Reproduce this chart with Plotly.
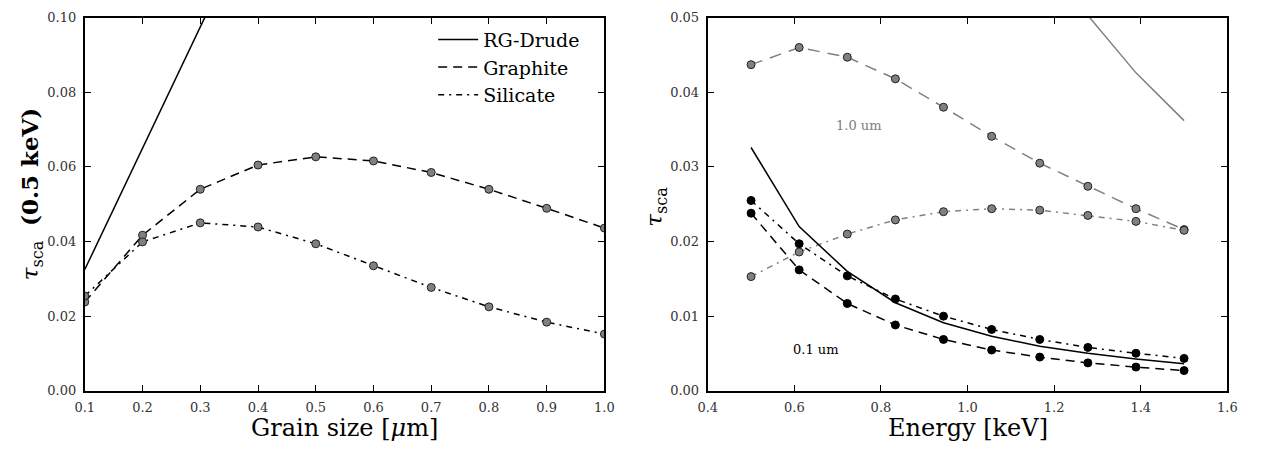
import plotly.graph_objects as go

# ---------------- data ----------------
grain_size = [0.1, 0.2, 0.3, 0.4, 0.5, 0.6, 0.7, 0.8, 0.9, 1.0]
rg_drude_a = [0.0325, 0.065, 0.0975, 0.130, 0.1625, 0.195, 0.2275, 0.260, 0.2925, 0.325]
graphite_a = [0.0238, 0.0417, 0.0540, 0.0605, 0.0627, 0.0616, 0.0585, 0.0540, 0.0489, 0.0436]
silicate_a = [0.0254, 0.0399, 0.0450, 0.0439, 0.0394, 0.0335, 0.0277, 0.0225, 0.0184, 0.0152]

energy = [0.5, 0.6111, 0.7222, 0.8333, 0.9444, 1.0556, 1.1667, 1.2778, 1.3889, 1.5]
rg_drude_01 = [0.0326, 0.0220, 0.0160, 0.0118, 0.00912, 0.00731, 0.00598, 0.00503, 0.00426, 0.00361]
graphite_01 = [0.0238, 0.0162, 0.0117, 0.00882, 0.00688, 0.00546, 0.00452, 0.00374, 0.00318, 0.00271]
silicate_01 = [0.0255, 0.0197, 0.0154, 0.0123, 0.0100, 0.00822, 0.00688, 0.00581, 0.00503, 0.00434]
rg_drude_10 = [0.326, 0.220, 0.160, 0.118, 0.0912, 0.0731, 0.0598, 0.0503, 0.0426, 0.0362]
graphite_10 = [0.0437, 0.0460, 0.0447, 0.0418, 0.0380, 0.0341, 0.0305, 0.0274, 0.0244, 0.0216]
silicate_10 = [0.0153, 0.0186, 0.0210, 0.0229, 0.0240, 0.0244, 0.0242, 0.0235, 0.0227, 0.0215]

left_xticks = [0.1, 0.2, 0.3, 0.4, 0.5, 0.6, 0.7, 0.8, 0.9, 1.0]
left_yticks = [0.00, 0.02, 0.04, 0.06, 0.08, 0.10]
right_xticks = [0.4, 0.6, 0.8, 1.0, 1.2, 1.4, 1.6]
right_yticks = [0.00, 0.01, 0.02, 0.03, 0.04, 0.05]

# ---------------- styles ----------------
FONT = "DejaVu Serif"
GRAY = "#808080"
DASH = "9px,6px"
DASHDOT = "6px,5px,2px,5px"
gray_marker = dict(size=8, color=GRAY, line=dict(color="#222", width=1))
black_marker = dict(size=8, color="black", line=dict(color="black", width=1))

fig = go.Figure()

# left panel
fig.add_trace(go.Scatter(x=grain_size, y=rg_drude_a, mode="lines",
                         line=dict(color="black", width=1.5), showlegend=False,
                         xaxis="x", yaxis="y"))
fig.add_trace(go.Scatter(x=grain_size, y=graphite_a, mode="lines+markers",
                         line=dict(color="black", width=1.5, dash=DASH),
                         marker=gray_marker, showlegend=False, xaxis="x", yaxis="y"))
fig.add_trace(go.Scatter(x=grain_size, y=silicate_a, mode="lines+markers",
                         line=dict(color="black", width=1.5, dash=DASHDOT),
                         marker=gray_marker, showlegend=False, xaxis="x", yaxis="y"))

# legend entries (line samples only)
for name, dash in [("RG-Drude", "solid"), ("Graphite", DASH), ("Silicate", DASHDOT)]:
    fig.add_trace(go.Scatter(x=[None], y=[None], mode="lines", name=name,
                             line=dict(color="black", width=1.5, dash=dash),
                             xaxis="x", yaxis="y"))

# right panel: 1.0 um (gray)
fig.add_trace(go.Scatter(x=energy, y=rg_drude_10, mode="lines",
                         line=dict(color=GRAY, width=1.5), showlegend=False,
                         xaxis="x2", yaxis="y2"))
fig.add_trace(go.Scatter(x=energy, y=graphite_10, mode="lines+markers",
                         line=dict(color=GRAY, width=1.5, dash="12px,8px"),
                         marker=gray_marker, showlegend=False, xaxis="x2", yaxis="y2"))
fig.add_trace(go.Scatter(x=energy, y=silicate_10, mode="lines+markers",
                         line=dict(color=GRAY, width=1.5, dash=DASHDOT),
                         marker=gray_marker, showlegend=False, xaxis="x2", yaxis="y2"))
# right panel: 0.1 um (black)
fig.add_trace(go.Scatter(x=energy, y=rg_drude_01, mode="lines",
                         line=dict(color="black", width=1.5), showlegend=False,
                         xaxis="x2", yaxis="y2"))
fig.add_trace(go.Scatter(x=energy, y=graphite_01, mode="lines+markers",
                         line=dict(color="black", width=1.5, dash=DASH),
                         marker=black_marker, showlegend=False, xaxis="x2", yaxis="y2"))
fig.add_trace(go.Scatter(x=energy, y=silicate_01, mode="lines+markers",
                         line=dict(color="black", width=1.5, dash=DASHDOT),
                         marker=black_marker, showlegend=False, xaxis="x2", yaxis="y2"))

W, H = 1261, 451
ydom = [(H - 397) / H, (H - 11) / H]

def axis(domain, rng, ticks, fmt, anchor, standoff):
    return dict(domain=domain, range=rng, tickvals=ticks,
                ticktext=[fmt.format(t) for t in ticks],
                showline=True, linecolor="black", linewidth=2, mirror="ticks",
                ticks="inside", ticklen=6, tickwidth=1, tickcolor="black",
                showgrid=False, zeroline=False, anchor=anchor,
                ticklabelstandoff=standoff,
                tickfont=dict(family=FONT, size=13, color="#333"))

fig.update_layout(
    width=W, height=H,
    margin=dict(l=0, r=0, t=0, b=0),
    paper_bgcolor="white", plot_bgcolor="white",
    font=dict(family=FONT, color="black"),
    xaxis=axis([76 / W, 604 / W], [0.1, 1.0], left_xticks, "{:.1f}", "y", 4),
    yaxis=axis(ydom, [0, 0.10], left_yticks, "{:.2f}", "x", 4),
    xaxis2=axis([709 / W, 1237 / W], [0.4, 1.6], right_xticks, "{:.1f}", "y2", 4),
    yaxis2=axis(ydom, [0, 0.05], right_yticks, "{:.2f}", "x2", 4),
    legend=dict(x=430 / W, y=(H - 14) / H, xanchor="left", yanchor="top",
                bgcolor="rgba(0,0,0,0)", borderwidth=0,
                font=dict(family=FONT, size=19, color="black"),
                tracegroupgap=0, itemwidth=40),
    showlegend=True,
)

annotations = [
    dict(x=340 / W, y=(H - 436) / H, xref="paper", yref="paper",
         xanchor="center", yanchor="middle",
         text="Grain size [<i>μ</i>m]", showarrow=False,
         font=dict(family=FONT, size=24, color="black")),
    dict(x=973 / W, y=(H - 436) / H, xref="paper", yref="paper",
         xanchor="center", yanchor="middle",
         text="Energy [keV]", showarrow=False,
         font=dict(family=FONT, size=24, color="black")),
    dict(x=22 / W, y=(H - 194) / H, xref="paper", yref="paper", textangle=-90,
         xanchor="center", yanchor="middle",
         text="<i>τ</i><sub>sca</sub>  <b>(0.5 keV)</b>", showarrow=False,
         font=dict(family=FONT, size=23, color="black")),
    dict(x=657 / W, y=(H - 207) / H, xref="paper", yref="paper", textangle=-90,
         xanchor="center", yanchor="middle",
         text="<i>τ</i><sub>sca</sub>", showarrow=False,
         font=dict(family=FONT, size=23, color="black")),
    dict(x=0.75, y=0.0356, xref="x2", yref="y2", text="1.0 um", showarrow=False,
         xanchor="center", yanchor="middle",
         font=dict(family=FONT, size=13, color=GRAY)),
    dict(x=0.65, y=0.00555, xref="x2", yref="y2", text="0.1 um", showarrow=False,
         xanchor="center", yanchor="middle",
         font=dict(family=FONT, size=13, color="black")),
]
fig.update_layout(annotations=annotations)

fig.write_html("out.html")
